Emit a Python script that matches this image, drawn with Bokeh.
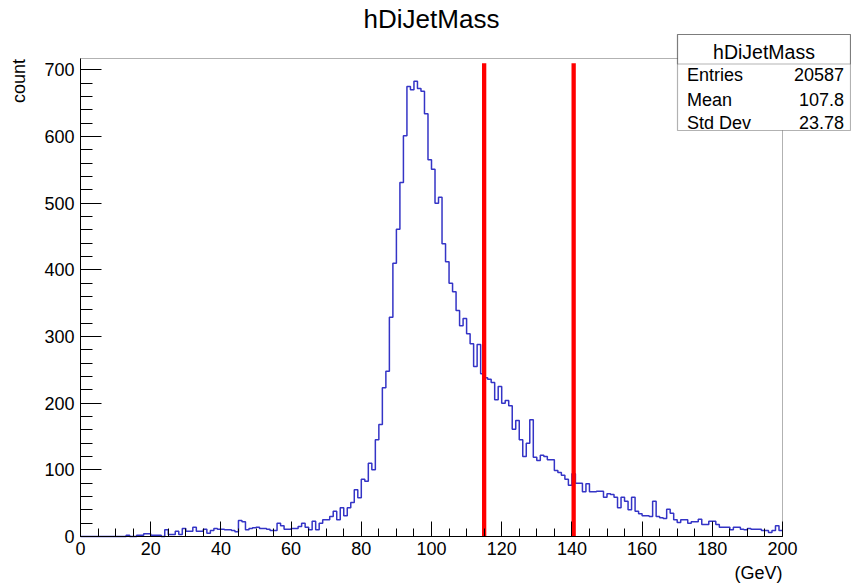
import math
from bokeh.plotting import figure
from bokeh.models import Range1d, SingleIntervalTicker, Label, BoxAnnotation
from bokeh.embed import file_html
from bokeh.resources import INLINE

# ---------------- data ----------------
TITLE = "hDiJetMass"
X_LABEL = "(GeV)"
Y_LABEL = "count"
BIN_LOW = 0
BIN_HIGH = 200
Y_MAX = 717

# counts per 1-GeV bin, bins 0..199
COUNTS = [
    0, 0, 0, 0, 0, 0, 0, 0, 0, 0,              # 0-9
    0, 0, 0, 2, 0, 0, 2, 2, 4, 4,              # 10-19
    2, 2, 2, 0, 10, 3, 3, 8, 3, 12,            # 20-29
    8, 8, 14, 8, 8, 11, 5, 9, 12, 11,          # 30-39
    11, 10, 10, 9, 7, 24, 22, 10, 12, 13,      # 40-49
    14, 12, 12, 11, 9, 9, 20, 16, 11, 11,      # 50-59
    12, 12, 15, 20, 14, 10, 23, 10, 20, 25,    # 60-69
    25, 30, 38, 25, 43, 31, 43, 51, 70, 58,    # 70-79
    86, 83, 110, 100, 145, 168, 223, 248, 329, 410,   # 80-89
    461, 531, 601, 675, 670, 683, 672, 668, 634, 565, # 90-99
    551, 500, 509, 439, 412, 380, 367, 339, 316, 327, # 100-109
    304, 289, 255, 288, 244, 238, 236, 231, 205, 225, # 110-119
    200, 204, 196, 161, 174, 145, 120, 140, 175, 119, # 120-129
    114, 122, 120, 115, 115, 99, 96, 92, 86, 77,      # 130-139
    94, 80, 80, 67, 79, 67, 67, 68, 68, 59,           # 140-149
    64, 63, 59, 43, 59, 53, 40, 59, 38, 34,           # 150-159
    31, 31, 30, 53, 30, 28, 27, 41, 35, 25,           # 160-169
    21, 25, 25, 20, 22, 22, 26, 18, 18, 23,           # 170-179
    23, 18, 14, 14, 14, 10, 14, 14, 11, 10,           # 180-189
    12, 11, 11, 11, 9, 9, 6, 9, 16, 9,                # 190-199
]

CUTS = [115.0, 140.5]
CUT_TOP = 710

STATS_NAMES = ["Entries", "Mean", "Std Dev"]
STATS_VALUES = ["20587", "107.8", "23.78"]

# ---------------- layout (canvas pixels) ----------------
W, H = 851, 583
FL, FR, FT, FB = 80, 782, 58, 536   # histogram frame in canvas pixels
FONT = "Liberation Sans"


def dx(px):
    return BIN_LOW + (px - FL) * (BIN_HIGH - BIN_LOW) / (FR - FL)


def dy(py):
    return (FB - py) * Y_MAX / (FB - FT)


n = len(COUNTS)
bw = (BIN_HIGH - BIN_LOW) / n
edges = [BIN_LOW + i * bw for i in range(n + 1)]
step_y = COUNTS + [COUNTS[-1]]

# plotting frame covers the whole canvas; axes are pinned at data 0
p = figure(width=W, height=H, output_backend="svg", toolbar_location=None,
           x_range=Range1d(dx(0), dx(W)), y_range=Range1d(dy(H), dy(0)),
           min_border=0, min_border_left=0, min_border_right=0,
           min_border_top=0, min_border_bottom=0)
p.xgrid.visible = False
p.ygrid.visible = False
p.outline_line_color = None
p.background_fill_color = "white"
p.border_fill_color = "white"

# histogram frame outline
p.add_layout(BoxAnnotation(left=BIN_LOW, right=BIN_HIGH, bottom=0, top=Y_MAX,
                           fill_alpha=0, fill_color=None, line_color="black",
                           line_width=1, level="underlay"))

p.step(edges, step_y, mode="after", line_color="#3434c6", line_width=1.5)
p.segment(x0=CUTS, y0=[0] * len(CUTS), x1=CUTS, y1=[CUT_TOP] * len(CUTS),
          line_color="#ff0000", line_width=4.3, line_cap="butt")

p.xaxis.ticker = SingleIntervalTicker(interval=20, num_minor_ticks=4)
p.yaxis.ticker = SingleIntervalTicker(interval=100, num_minor_ticks=5)
p.xaxis.fixed_location = 0
p.yaxis.fixed_location = BIN_LOW
p.xaxis.bounds = (BIN_LOW, BIN_HIGH)
p.yaxis.bounds = (0, Y_MAX)
for ax in (p.xaxis[0], p.yaxis[0]):
    ax.major_tick_out = 0
    ax.minor_tick_out = 0
    ax.axis_line_color = "black"
    ax.major_tick_line_color = "black"
    ax.minor_tick_line_color = "black"
    ax.major_label_text_font = FONT
    ax.major_label_text_font_size = "18px"
    ax.major_label_text_color = "black"
p.xaxis.major_tick_in = 15
p.xaxis.minor_tick_in = 8
p.yaxis.major_tick_in = 21
p.yaxis.minor_tick_in = 12
p.xaxis.major_label_standoff = 5
p.yaxis.major_label_standoff = 6

# titles
p.add_layout(Label(x=dx(431), y=dy(18.7), text=TITLE, text_align="center",
                   text_baseline="middle", text_font=FONT, text_font_size="26px",
                   text_color="black"))
p.add_layout(Label(x=dx(18.5), y=dy(58.5), text=Y_LABEL, angle=math.pi / 2,
                   text_align="right", text_baseline="middle", text_font=FONT,
                   text_font_size="18px", text_color="black"))
p.add_layout(Label(x=BIN_HIGH, y=dy(572), text=X_LABEL, text_align="right",
                   text_baseline="middle", text_font=FONT, text_font_size="18px",
                   text_color="black"))

# stats box
BL, BR, BT, BB, BS = 677, 850, 34, 130, 63.5
p.add_layout(BoxAnnotation(left=dx(BL), right=dx(BR), top=dy(BT), bottom=dy(BB),
                           fill_color="white", fill_alpha=1, line_color="black",
                           line_width=1.2, level="annotation"))
p.add_layout(BoxAnnotation(left=dx(BL), right=dx(BR), top=dy(BT), bottom=dy(BS),
                           fill_alpha=0, fill_color=None, line_color="black",
                           line_width=1.2, level="annotation"))
p.add_layout(Label(x=dx(763.5), y=dy(51.5), text=TITLE, text_align="center",
                   text_baseline="middle", text_font=FONT, text_font_size="19.5px",
                   text_color="black"))
row_y = [74, 99, 122]
for name, val, ry in zip(STATS_NAMES, STATS_VALUES, row_y):
    p.add_layout(Label(x=dx(686.5), y=dy(ry), text=name, text_align="left",
                       text_baseline="middle", text_font=FONT, text_font_size="18px",
                       text_color="black"))
    p.add_layout(Label(x=dx(843.5), y=dy(ry), text=val, text_align="right",
                       text_baseline="middle", text_font=FONT, text_font_size="18px",
                       text_color="black"))

open("out.html", "w").write(file_html(p, INLINE))
